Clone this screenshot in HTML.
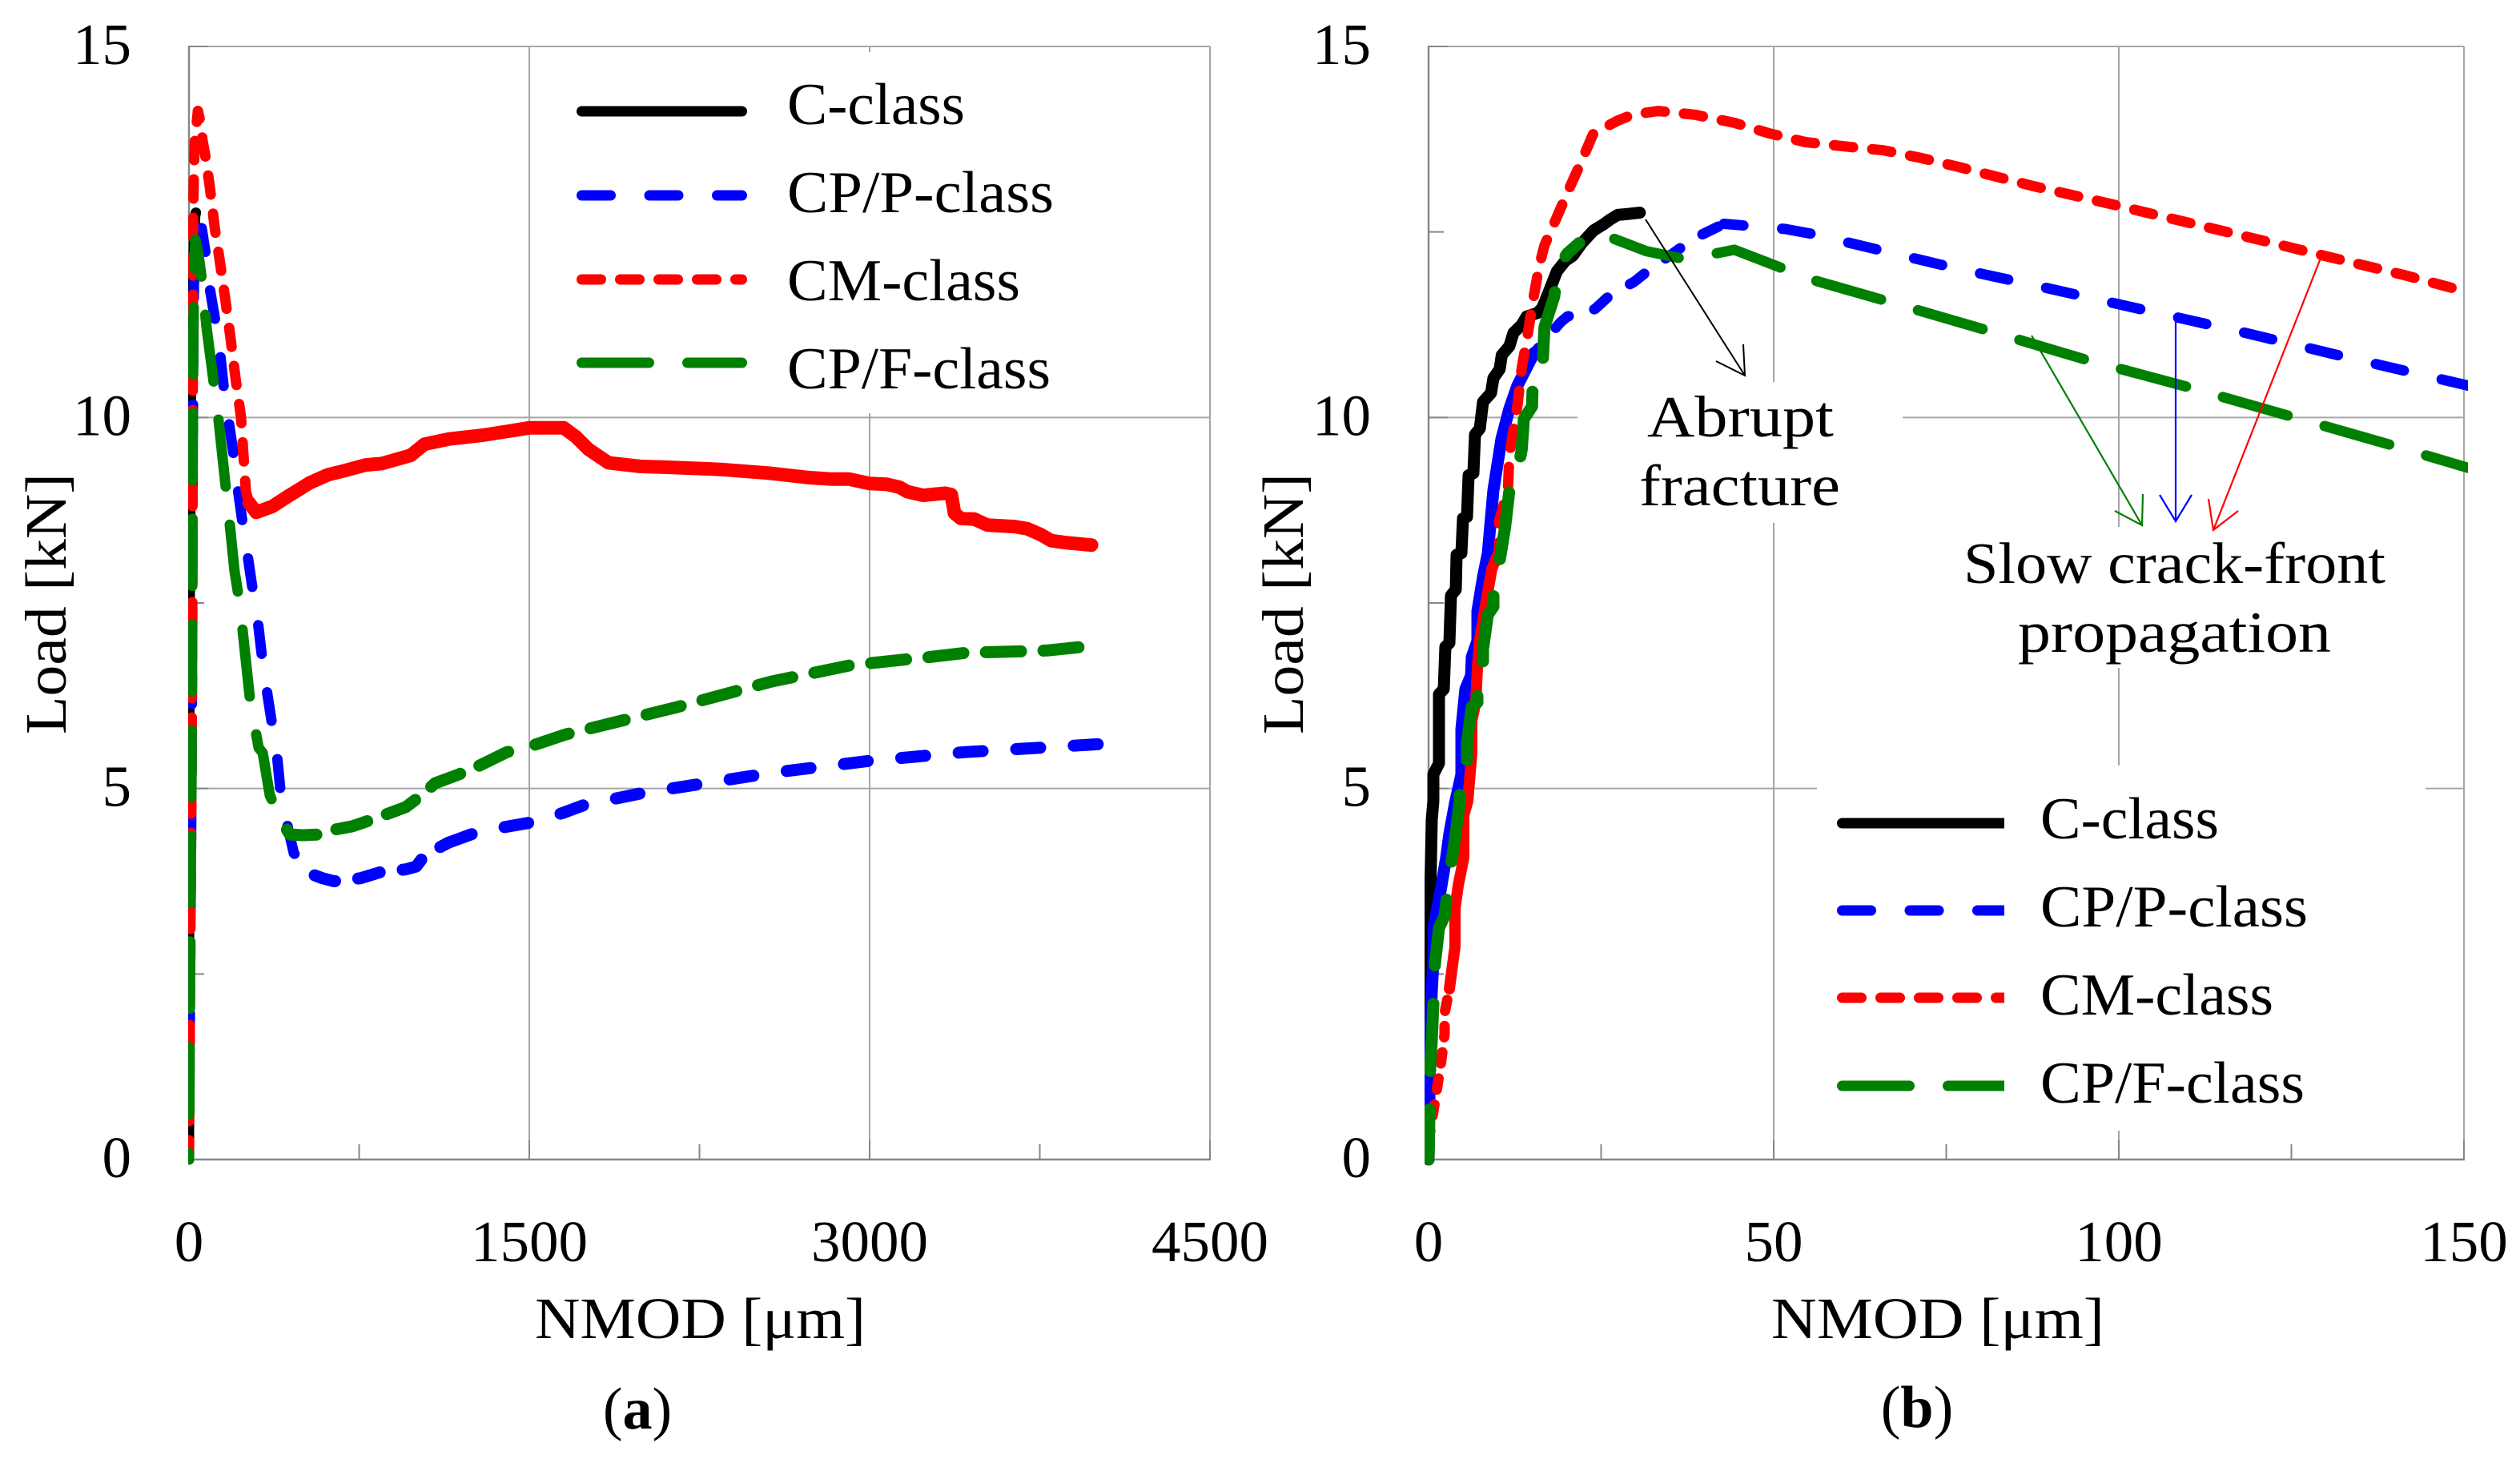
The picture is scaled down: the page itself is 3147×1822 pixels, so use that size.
<!DOCTYPE html>
<html lang="en">
<head>
<meta charset="utf-8">
<title>Load versus NMOD curves</title>
<style>
html,body{margin:0;padding:0;background:#fff;width:3147px;height:1822px;overflow:hidden}
svg{display:block}
text{font-family:"Liberation Serif",serif;fill:#000}
</style>
</head>
<body>
<svg id="figure" xmlns="http://www.w3.org/2000/svg" width="3147" height="1822" viewBox="0 0 3147 1822">
  <defs>
    <clipPath id="clip-a"><rect x="235" y="40" width="1290" height="1420"/></clipPath>
    <clipPath id="clip-b"><rect x="1779" y="40" width="1303" height="1420"/></clipPath>
    <clipPath id="clip-legend-b"><rect x="2280" y="1000" width="223" height="400"/></clipPath>
  </defs>
  <g id="panel-a"></g>
  <g id="panel-b"></g>

  <g font-size="73">
    <text transform="translate(82,917) rotate(-90)" textLength="326" lengthAdjust="spacingAndGlyphs">Load [kN]</text>
    <text x="668" y="1671" textLength="413" lengthAdjust="spacingAndGlyphs">NMOD [μm]</text>
    <text x="796" y="1784" text-anchor="middle" font-size="74">(<tspan font-weight="bold">a</tspan>)</text>
  </g>
  <g font-size="73">
    <text transform="translate(1627,917) rotate(-90)" textLength="326" lengthAdjust="spacingAndGlyphs">Load [kN]</text>
    <text x="2212" y="1671" textLength="416" lengthAdjust="spacingAndGlyphs">NMOD [μm]</text>
    <text x="2394" y="1782" text-anchor="middle" font-size="74">(<tspan font-weight="bold">b</tspan>)</text>
  </g>

  <g font-size="74">
    <g>
      <line x1="726.5" y1="139" x2="926.5" y2="139" stroke="#000" stroke-width="13" stroke-linecap="round"/>
      <text x="983" y="155" textLength="222" lengthAdjust="spacingAndGlyphs">C-class</text>
    </g>
    <g>
      <line x1="726.5" y1="244" x2="926.5" y2="244" stroke="#0000ff" stroke-width="13" stroke-linecap="round" stroke-dasharray="36 48.5"/>
      <text x="983" y="265" textLength="333" lengthAdjust="spacingAndGlyphs">CP/P-class</text>
    </g>
    <g>
      <line x1="726.5" y1="349" x2="926.5" y2="349" stroke="#ff0000" stroke-width="13" stroke-linecap="round" stroke-dasharray="24 24"/>
      <text x="983" y="375" textLength="291" lengthAdjust="spacingAndGlyphs">CM-class</text>
    </g>
    <g>
      <line x1="726.5" y1="453" x2="926.5" y2="453" stroke="#008000" stroke-width="13" stroke-linecap="round" stroke-dasharray="84 48"/>
      <text x="983" y="485" textLength="329" lengthAdjust="spacingAndGlyphs">CP/F-class</text>
    </g>
  </g>

  <g font-size="74">
    <g>
      <line x1="2300.5" y1="1028" x2="2515" y2="1028" stroke="#000" stroke-width="13" stroke-linecap="round" clip-path="url(#clip-legend-b)"/>
      <text x="2548" y="1047" textLength="223" lengthAdjust="spacingAndGlyphs">C-class</text>
    </g>
    <g>
      <line x1="2300.5" y1="1137" x2="2515" y2="1137" stroke="#0000ff" stroke-width="13" stroke-linecap="round" stroke-dasharray="36 48.5" clip-path="url(#clip-legend-b)"/>
      <text x="2548" y="1157" textLength="334" lengthAdjust="spacingAndGlyphs">CP/P-class</text>
    </g>
    <g>
      <line x1="2300.5" y1="1246" x2="2515" y2="1246" stroke="#ff0000" stroke-width="13" stroke-linecap="round" stroke-dasharray="24 24" clip-path="url(#clip-legend-b)"/>
      <text x="2548" y="1267" textLength="291" lengthAdjust="spacingAndGlyphs">CM-class</text>
    </g>
    <g>
      <line x1="2300.5" y1="1356" x2="2515" y2="1356" stroke="#008000" stroke-width="13" stroke-linecap="round" stroke-dasharray="84 48" clip-path="url(#clip-legend-b)"/>
      <text x="2548" y="1377" textLength="330" lengthAdjust="spacingAndGlyphs">CP/F-class</text>
    </g>
  </g>

  <g font-size="73" fill="none">
    <g stroke="#000" stroke-width="2">
      <path d="M2055 274L2179 469M2143 451L2179 469L2177 430"/>
    </g>
    <g stroke="#008000" stroke-width="2.2">
      <path d="M2537 419L2675 656M2641 638L2675 656L2676 617"/>
    </g>
    <g stroke="#0000ff" stroke-width="2.2">
      <path d="M2717 393L2717 651M2697 618L2717 651L2737 618"/>
    </g>
    <g stroke="#ff0000" stroke-width="2.2">
      <path d="M2899 320L2764 662M2758 623L2764 662L2795 638"/>
    </g>
    <text x="2057" y="545" textLength="233" lengthAdjust="spacingAndGlyphs">Abrupt</text>
    <text x="2047" y="631" textLength="251" lengthAdjust="spacingAndGlyphs">fracture</text>
    <text x="2452" y="728" textLength="527" lengthAdjust="spacingAndGlyphs">Slow crack-front</text>
    <text x="2520" y="814" textLength="391" lengthAdjust="spacingAndGlyphs">propagation</text>
  </g>
</svg>

<script>
// ---- Shared axis values ----
const loadTicks = [0, 5, 10, 15];
const loadMinorTicks = [2.5, 7.5, 12.5];
const aXTicks = [0, 1500, 3000, 4500];
const aXMinorTicks = [750, 2250, 3750];
const bXTicks = [0, 50, 100, 150];
const bXMinorTicks = [25, 75, 125];

// ---- C-class (same record drawn in both panels) ----
const cX = [0,0.23,0.46,0.70,0.70,1.51,1.51,2.20,2.44,3.02,3.25,3.94,4.06,4.76,4.99,5.57,5.80,6.50,6.73,7.42,7.89,9.05,9.40,10.3,10.6,11.7,12.3,13.5,14.2,15.8,16.5,17.5,18.6,19.8,20.9,22.2,23.9,25.3,26.2,27.4,28.7,30.6];
const cY = [0,3.49,4.58,4.83,5.19,5.34,6.27,6.34,6.91,6.96,7.60,7.68,8.15,8.17,8.64,8.66,9.22,9.25,9.77,9.85,10.21,10.33,10.53,10.65,10.84,10.96,11.14,11.25,11.36,11.41,11.48,11.71,11.97,12.11,12.18,12.35,12.52,12.60,12.66,12.73,12.74,12.76];

// ---- Panel (a) series ----
const aCpX = [0,5,11,14,16,19,22,32,45,56,74,92,116,138,155,176,198,215,236,261,279,304,321,342,364,388,402,431,462,554,589,639,755,851,956,1002,1038,1144,1260,1391,1521,1648,1744,2001,2273,2566,2993,3416,3755,4020];
const aCpY = [0,2.5,5,7,9,11,11.8,12.2,12.55,12.55,12.2,11.73,11.3,10.84,10.36,9.93,9.47,9.04,8.58,8.09,7.71,7.24,6.80,6.34,5.91,5.45,5.01,4.54,4.13,3.83,3.79,3.75,3.79,3.88,3.91,3.95,4.10,4.27,4.40,4.48,4.55,4.67,4.78,4.94,5.07,5.21,5.37,5.49,5.55,5.60];
const aCmX = [0,5,11,14,16,18,21,25,39,49,60,74,92,113,138,162,184,205,229,240,251,265,296,367,448,533,614,695,780,851,921,978,1038,1147,1292,1419,1500,1652,1705,1761,1849,1991,2096,2343,2555,2732,2827,2908,3000,3074,3131,3166,3236,3332,3360,3374,3402,3462,3519,3639,3695,3755,3801,3872,3978];
const aCmY = [0,2.5,5,7,9,12.67,13.17,13.7,14.13,14.0,13.73,13.49,13.1,12.57,12.06,11.55,11.05,10.53,10.01,9.5,9.0,8.85,8.72,8.8,8.96,9.12,9.23,9.29,9.36,9.38,9.44,9.49,9.64,9.71,9.76,9.82,9.86,9.86,9.74,9.57,9.39,9.34,9.33,9.30,9.25,9.19,9.17,9.17,9.11,9.10,9.06,9.0,8.95,8.98,8.96,8.71,8.64,8.63,8.55,8.53,8.5,8.42,8.34,8.31,8.28];
const aCfX = [0,5,11,14,16,19,22,28,42,56,78,109,131,162,180,201,215,236,268,296,307,325,356,402,445,501,579,649,720,815,956,1038,1084,1189,1274,1401,1496,1662,2142,2566,2756,2915,3162,3261,3427,3695,3783,3974];
const aCfY = [0,2.5,5,7,9,11,11.8,12.4,12.2,11.87,11.2,10.47,9.95,9.06,8.55,7.93,7.66,7.14,6.23,5.73,5.55,5.48,4.91,4.59,4.38,4.37,4.38,4.45,4.49,4.59,4.75,4.94,5.07,5.19,5.30,5.49,5.56,5.73,6.09,6.44,6.56,6.66,6.74,6.77,6.83,6.85,6.86,6.92];

// ---- Panel (b) series ----
const bCpX = [0,0.23,0.46,0.70,0.70,1.74,2.55,3.02,3.83,4.76,4.76,5.34,6.15,6.26,7.08,7.08,7.89,8.58,9.40,10.56,11.72,12.88,15.3,19.1,20.1,24.1,26.2,29.8,32.1,35.4,38.4,42.8,46.6,51.7,56.4,61.1,75.5,89.3,104.1,117.9,132.6,150.6];
const bCpY = [0,1.60,2.26,2.67,3.12,3.62,4.07,4.39,4.80,5.19,5.80,6.34,6.52,6.77,6.99,7.39,7.85,8.17,9.02,9.71,10.12,10.43,10.87,11.28,11.36,11.46,11.64,11.83,12.0,12.21,12.41,12.61,12.58,12.54,12.46,12.35,12.03,11.75,11.44,11.15,10.82,10.43];
const bCmX = [0,0.70,1.28,1.86,2.32,2.32,3.02,3.83,3.83,4.29,5.10,5.10,5.68,6.26,6.26,6.84,7.08,7.42,8.0,9.16,10.2,10.2,11.5,11.7,12.9,13.5,14.4,15.1,16.0,16.8,18.4,20.3,22.0,23.9,27.4,29.5,33.3,38.6,44.3,49.3,54.6,60.6,65.9,71.2,76.6,87.5,98.7,109.4,120.1,130.6,141.3,150.1];
const bCmY = [0.24,0.65,0.99,1.34,1.69,1.97,2.30,2.87,3.38,3.69,4.07,4.64,4.83,5.48,5.91,6.16,6.63,7.02,7.34,7.96,8.19,8.60,9.02,9.49,10.18,10.67,11.14,11.56,12.03,12.32,12.66,13.07,13.42,13.83,14.0,14.08,14.13,14.08,13.97,13.83,13.71,13.65,13.60,13.50,13.38,13.12,12.88,12.64,12.40,12.16,11.92,11.70];
const bCfX = [0,0.23,0.46,0.70,0.93,1.51,2.32,3.02,3.83,4.52,4.52,5.57,5.57,6.26,7.08,7.08,7.89,7.89,8.58,9.40,9.40,10.3,11.1,11.7,12.6,13.5,13.8,15.0,15.1,16.5,16.8,18.2,18.8,20.1,21.8,26.8,31.6,36.3,41.6,44.3,51.0,55.8,65.9,80.7,95.2,110,124.7,139.4,150.6];
const bCfY = [0,1.22,1.60,2.10,2.64,3.12,3.28,3.82,4.32,4.83,5.19,5.26,5.62,6.10,6.16,6.56,6.59,6.88,7.34,7.45,7.88,8.07,8.53,9.02,9.14,9.57,9.98,10.15,10.56,10.67,11.22,11.63,12.03,12.21,12.35,12.41,12.24,12.15,12.21,12.26,12.02,11.85,11.58,11.18,10.78,10.41,10.02,9.63,9.32];

// Axis functions
const plotTop = 58, plotBottom = 1448;
function yLoad(v) { return plotBottom - v * (plotBottom - plotTop) / 15; }
function xA(v) { return 236 + v * (1511 - 236) / 4500; }
function xB(v) { return 1784 + v * (3077 - 1784) / 150; }

const SVG_NS = 'http://www.w3.org/2000/svg';
function mk(parent, tag, attrs) {
  const el = document.createElementNS(SVG_NS, tag);
  for (const k in attrs) el.setAttribute(k, attrs[k]);
  parent.appendChild(el);
  return el;
}

const GRID = '#a6a6a6', AXIS = '#868686';

function drawFrame(g, xFn, xTicks, xMax) {
  const left = xFn(0), right = xFn(xMax);
  for (const v of loadTicks) {
    if (v === 0) continue;
    const line = mk(g, 'line', {x1: left, x2: right, y1: yLoad(v), y2: yLoad(v), stroke: GRID, 'stroke-width': 2});
    
    
  }
  for (const v of xTicks) {
    if (v === 0) continue;
    const line = mk(g, 'line', {x1: xFn(v), x2: xFn(v), y1: plotTop, y2: plotBottom, stroke: GRID, 'stroke-width': 2});
    
    
  }
  const yAxis = mk(g, 'line', {x1: left, x2: left, y1: plotTop - 1, y2: plotBottom + 1, stroke: AXIS, 'stroke-width': 2.4});
  
  
  const xAxis = mk(g, 'line', {x1: left, x2: right + 1, y1: plotBottom, y2: plotBottom, stroke: AXIS, 'stroke-width': 2.4});
  
  
}

function drawTicks(g, xFn, xTicks, xMinor) {
  const left = xFn(0);
  for (const v of loadTicks) {
    const t = mk(g, 'line', {x1: left, x2: left + 24, y1: yLoad(v), y2: yLoad(v), stroke: AXIS, 'stroke-width': 2});
    
    
    const lab = mk(g, 'text', {x: left - 72, y: yLoad(v) + 22, 'text-anchor': 'end', 'font-size': 73});
    
    
    lab.textContent = String(v);
  }
  for (const v of loadMinorTicks) {
    const t = mk(g, 'line', {x1: left, x2: left + 19, y1: yLoad(v), y2: yLoad(v), stroke: AXIS, 'stroke-width': 2});
    
    
  }
  for (const v of xTicks) {
    const t = mk(g, 'line', {x1: xFn(v), x2: xFn(v), y1: plotBottom - 24, y2: plotBottom, stroke: AXIS, 'stroke-width': 2});
    
    
    const lab = mk(g, 'text', {x: xFn(v), y: 1575, 'text-anchor': 'middle', 'font-size': 73});
    
    
    lab.textContent = String(v);
  }
  for (const v of xMinor) {
    const t = mk(g, 'line', {x1: xFn(v), x2: xFn(v), y1: plotBottom - 19, y2: plotBottom, stroke: AXIS, 'stroke-width': 2});
    
    
  }
}

function pathFrom(xs, ys, xFn, from, to) {
  let d = '';
  for (let i = from; i <= to; i++) {
    d += (i === from ? 'M' : 'L') + xFn(xs[i]).toFixed(1) + ' ' + yLoad(ys[i]).toFixed(1);
  }
  return d;
}

// Arc length along [from,to] up to the first crossing of data-x value "anchor"
function arcToAnchor(xs, ys, xFn, from, to, anchor) {
  let s = 0;
  for (let i = from; i < to; i++) {
    const dx = xFn(xs[i + 1]) - xFn(xs[i]);
    const dy = yLoad(ys[i + 1]) - yLoad(ys[i]);
    const len = Math.hypot(dx, dy);
    if (xs[i + 1] > xs[i] && xs[i] <= anchor && anchor <= xs[i + 1]) {
      return s + len * (anchor - xs[i]) / (xs[i + 1] - xs[i]);
    }
    s += len;
  }
  return s;
}

// A curve is stroked in runs, because the recorded noise changes how the dashes look along it.
function drawSeries(g, xs, ys, xFn, color, runs, name) {
  const starts = runs.map(function (r) {
    const i = xs.findIndex(function (v) { return v >= r.from; });
    return i < 0 ? xs.length - 1 : i;
  });
  runs.forEach(function (run, k) {
    const from = starts[k];
    const to = k + 1 < runs.length ? starts[k + 1] : xs.length - 1;
    const attrs = {
      d: pathFrom(xs, ys, xFn, from, to), fill: 'none', stroke: color,
      'stroke-width': run.width || 13, 'stroke-linecap': 'round', 'stroke-linejoin': 'round'
    };
    if (run.dash) {
      attrs['stroke-dasharray'] = run.dash;
      if (run.anchor !== undefined) {
        const parts = run.dash.split(' ').map(Number);
        const period = parts[0] + parts[1];
        const s = arcToAnchor(xs, ys, xFn, from, to, run.anchor);
        attrs['stroke-dashoffset'] = (period - (s % period)).toFixed(2);
      }
    }
    const p = mk(g, 'path', attrs);
    
    
  });
}

function whiteBox(g, x, y, w, h, name) {
  const r = mk(g, 'rect', {x: x, y: y, width: w, height: h, fill: '#fff'});
  
  
}

// Panel (a)
const gA = document.getElementById('panel-a');
drawFrame(gA, xA, aXTicks, 4500);
whiteBox(gA, 670, 65, 832, 451, 'legend-a-background');
drawTicks(gA, xA, aXTicks, aXMinorTicks);
const seriesA = mk(gA, 'g', {'clip-path': 'url(#clip-a)'});


drawSeries(seriesA, cX, cY, xA, '#000', [{from: 0}], 'c-class-line-a');
drawSeries(seriesA, aCpX, aCpY, xA, '#0000ff', [
  {from: 0, dash: '36 48.5', anchor: 93},
  {from: 500, dash: '28 29', anchor: 942, width: 15},
  {from: 1144, dash: '30 42', anchor: 1391, width: 15}
], 'cp-p-class-line-a');
drawSeries(seriesA, aCmX, aCmY, xA, '#ff0000', [
  {from: 0, dash: '24 24', anchor: 17.87},
  {from: 39, dash: '24 24', anchor: 106},
  {from: 265, width: 17}
], 'cm-class-line-a');
drawSeries(seriesA, aCfX, aCfY, xA, '#008000', [
  {from: 0, dash: '84 48', anchor: 236},
  {from: 380, dash: '40 26', anchor: 1496, width: 15},
  {from: 1496, dash: '44 28', anchor: 2756, width: 15}
], 'cp-f-class-line-a');

// Panel (b)
const gB = document.getElementById('panel-b');
drawFrame(gB, xB, bXTicks, 150);
whiteBox(gB, 1970, 477, 406, 176, 'abrupt-label-background');
whiteBox(gB, 2420, 658, 580, 176, 'slow-crack-label-background');
whiteBox(gB, 2269, 956, 760, 456, 'legend-b-background');
drawTicks(gB, xB, bXTicks, bXMinorTicks);
const seriesB = mk(gB, 'g', {'clip-path': 'url(#clip-b)'});


drawSeries(seriesB, cX, cY, xB, '#000', [{from: 0, width: 15}], 'c-class-line-b');
drawSeries(seriesB, bCpX, bCpY, xB, '#0000ff', [
  {from: 0, width: 15},
  {from: 15.3, dash: '22 33', anchor: 24},
  {from: 42.8, dash: '36 48.5', anchor: 108.6}
], 'cp-p-class-line-b');
drawSeries(seriesB, bCmX, bCmY, xB, '#ff0000', [
  {from: 0, dash: '14 19'},
  {from: 3, width: 14},
  {from: 10.2, dash: '24 24', anchor: 129.3}
], 'cm-class-line-b');
drawSeries(seriesB, bCfX, bCfY, xB, '#008000', [
  {from: 0, dash: '84 48', anchor: 13.3, width: 15},
  {from: 21.8, dash: '84 48', anchor: 85.6}
], 'cp-f-class-line-b');
</script>
</body>
</html>
